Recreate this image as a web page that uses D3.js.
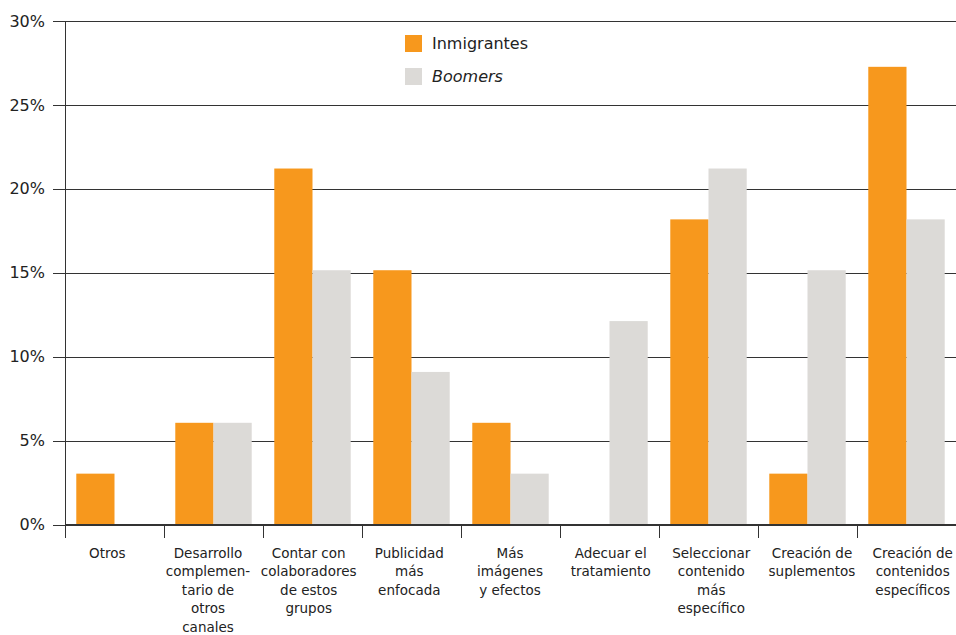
<!DOCTYPE html>
<html>
<head>
<meta charset="utf-8">
<script src="https://cdn.jsdelivr.net/npm/d3@7/dist/d3.min.js"></script>
<style>
  html, body { margin: 0; padding: 0; background: #fff; }
  svg { display: block; font-family: "DejaVu Sans", Verdana, sans-serif; }
</style>
</head>
<body>
<svg id="chart" width="956" height="635"></svg>
<script>
// Category labels, one entry per line of the wrapped label
const categories = [
  ["Otros"],
  ["Desarrollo", "complemen-", "tario de", "otros", "canales"],
  ["Contar con", "colaboradores", "de estos", "grupos"],
  ["Publicidad", "más", "enfocada"],
  ["Más", "imágenes", "y efectos"],
  ["Adecuar el", "tratamiento"],
  ["Seleccionar", "contenido", "más", "específico"],
  ["Creación de", "suplementos"],
  ["Creación de", "contenidos", "específicos"]
];
const seriesNames = ["Inmigrantes", "Boomers"];
const inmigrantes = [3.03, 6.06, 21.21, 15.15, 6.06, 0, 18.18, 3.03, 27.27];
const boomers     = [0, 6.06, 15.15, 9.09, 3.03, 12.12, 21.21, 15.15, 18.18];
const yTicks = [0, 5, 10, 15, 20, 25, 30];
const colors = ["#F7981D", "#DCDAD7"];

(function () {
  const svg = d3.select("#chart");
  const mLeft = 65, mRight = 956, mTop = 21, mBottom = 524.5;
  const ids = categories.map((_, i) => i);

  const x0 = d3.scaleBand().domain(ids).range([mLeft, mRight])
    .paddingInner(0.228).paddingOuter(0.114);
  const x1 = d3.scaleBand().domain(seriesNames).range([0, x0.bandwidth()]);
  const y = d3.scaleLinear().domain([0, 30]).range([mBottom, mTop]);
  const step = (mRight - mLeft) / categories.length;
  const labelX = d3.scaleBand().domain(ids).range([57, 963]);

  // horizontal gridlines with left tick marks and labels
  const yAxis = d3.axisLeft(y).tickValues(yTicks)
    .tickSize(-(mRight - mLeft))
    .tickFormat(d => d + "%");
  const gy = svg.append("g").attr("transform", `translate(${mLeft},0)`).call(yAxis);
  gy.select(".domain").remove();
  gy.selectAll(".tick line").attr("stroke", "#333").attr("x1", -12).attr("shape-rendering", "crispEdges");
  gy.selectAll(".tick text").attr("font-size", 16).attr("fill", "#222")
    .attr("font-family", "DejaVu Sans, Verdana, sans-serif").attr("x", -20);

  // bars
  const data = ids.map(i => ({ i, values: [inmigrantes[i], boomers[i]] }));
  const groups = svg.append("g").selectAll("g").data(data).join("g")
    .attr("transform", d => `translate(${x0(d.i)},0)`);
  groups.selectAll("rect").data(d => d.values.map((v, k) => ({ k, v })))
    .join("rect")
    .attr("x", d => x1(seriesNames[d.k]))
    .attr("width", x1.bandwidth())
    .attr("y", d => y(d.v))
    .attr("height", d => y(0) - y(d.v))
    .attr("fill", d => colors[d.k]);

  // axis lines: baseline, vertical axis, category separators
  const ax = svg.append("g").attr("stroke", "#333").attr("shape-rendering", "crispEdges");
  ax.append("line").attr("x1", mLeft).attr("x2", mRight).attr("y1", y(0)).attr("y2", y(0));
  ax.append("line").attr("x1", mLeft).attr("x2", mLeft).attr("y1", mTop).attr("y2", mBottom + 13);
  ax.selectAll(".sep").data(d3.range(1, categories.length + 1)).join("line")
    .attr("x1", d => mLeft + d * step).attr("x2", d => mLeft + d * step)
    .attr("y1", mBottom).attr("y2", mBottom + 13);

  // category labels
  const lab = svg.append("g").attr("font-size", 13.5).attr("fill", "#222").attr("text-anchor", "middle");
  lab.selectAll("text").data(ids).join("text")
    .attr("y", 558)
    .selectAll("tspan").data(i => categories[i].map(t => ({ t, x: labelX(i) + labelX.bandwidth() / 2 })))
    .join("tspan")
    .attr("x", d => d.x)
    .attr("dy", (d, j) => j === 0 ? 0 : 18.4)
    .text(d => d.t);

  // legend
  const lg = svg.append("g").attr("transform", "translate(405,35)");
  const li = lg.selectAll("g").data(seriesNames).join("g")
    .attr("transform", (d, k) => `translate(0,${k * 33})`);
  li.append("rect").attr("width", 17).attr("height", 17).attr("fill", (d, k) => colors[k]);
  li.append("text").attr("x", 27).attr("y", 14).attr("font-size", 16).attr("fill", "#222")
    .attr("font-style", (d, k) => k === 1 ? "italic" : "normal")
    .text(d => d);
})();
</script>
</body>
</html>
